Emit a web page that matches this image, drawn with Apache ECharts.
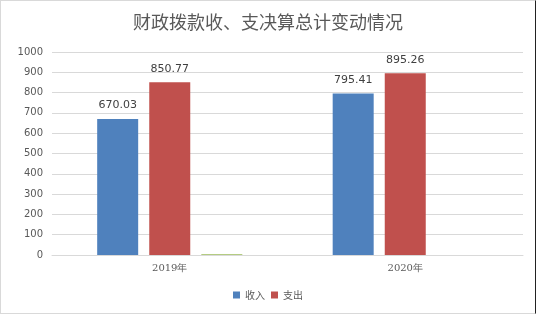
<!DOCTYPE html>
<html>
<head>
<meta charset="utf-8">
<script src="https://cdn.jsdelivr.net/npm/echarts@6/dist/echarts.min.js"></script>
<style>
  html, body { margin: 0; padding: 0; background: #fff; }
  #chart {
    width: 534px; height: 312px;
    border-left: 1px solid #d9d9d9; border-top: 1px solid #d9d9d9;
    border-bottom: 1px solid #d9d9d9; border-right: 1px solid #222;
  }
</style>
</head>
<body>
<div id="chart"></div>
<script>
const categories = ['2019年', '2020年']
const income = [670.03, 795.41]
const expense = [850.77, 895.26]
const other = [4, null]
const yTicks = { min: 0, max: 1000, interval: 100 }

const chart = echarts.init(document.getElementById('chart'))
const font = '"Noto Sans CJK SC", sans-serif'
chart.setOption({
  backgroundColor: '#fff',
  animation: false,
  title: {
    text: '财政拨款收、支决算总计变动情况',
    left: 'center',
    top: 7,
    textStyle: { color: '#595959', fontSize: 18, fontWeight: 'normal', fontFamily: font }
  },
  legend: {
    bottom: 8,
    left: 'center',
    itemWidth: 7,
    itemHeight: 7,
    itemGap: 6,
    data: ['收入', '支出'],
    icon: 'rect',
    textStyle: { color: '#595959', fontSize: 10, fontFamily: font }
  },
  grid: { left: 51, right: 12, top: 51, bottom: 58 },
  xAxis: {
    type: 'category',
    data: categories,
    axisTick: { show: false },
    axisLine: { lineStyle: { color: '#d9d9d9' } },
    axisLabel: { color: '#595959', fontSize: 10, fontFamily: 'DejaVu Serif', margin: 8 }
  },
  yAxis: {
    type: 'value',
    min: yTicks.min,
    max: yTicks.max,
    interval: yTicks.interval,
    axisLine: { show: false },
    axisTick: { show: false },
    splitLine: { lineStyle: { color: '#d9d9d9' } },
    axisLabel: { color: '#595959', fontSize: 10, fontFamily: 'DejaVu Sans', margin: 9, formatter: v => String(v) }
  },
  series: [
    {
      name: '收入', type: 'bar', data: income, barWidth: 41, barGap: '27%',
      itemStyle: { color: '#4f81bd' },
      label: { show: true, position: 'top', distance: 8, color: '#404040', fontSize: 11, fontFamily: 'DejaVu Sans' }
    },
    {
      name: '支出', type: 'bar', data: expense, barWidth: 41, barGap: '27%',
      itemStyle: { color: '#c0504d' },
      label: { show: true, position: 'top', distance: 8, color: '#404040', fontSize: 11, fontFamily: 'DejaVu Sans' }
    },
    {
      name: '其他', type: 'bar', data: other, barWidth: 41, barGap: '27%',
      itemStyle: { color: '#9bbb59' }
    }
  ]
})
</script>
</body>
</html>
